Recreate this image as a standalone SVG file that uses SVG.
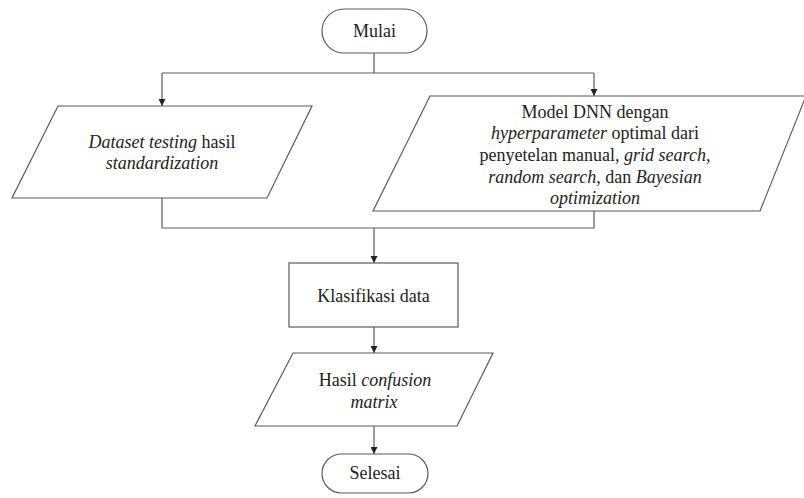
<svg xmlns="http://www.w3.org/2000/svg" width="804" height="498" viewBox="0 0 804 498">
  <style>
    .shape { fill: #ffffff; stroke: #5a5a5a; stroke-width: 1.2; }
    .wire { fill: none; stroke: #5a5a5a; stroke-width: 1.2; }
  </style>
  <defs>
    <marker id="arrow" viewBox="0 0 10 10" refX="10" refY="5" markerWidth="7" markerHeight="7" markerUnits="userSpaceOnUse" orient="auto">
      <path d="M0,0 L10,5 L0,10 Z" fill="#222222"/>
    </marker>
  </defs>
  <rect width="804" height="498" fill="#ffffff"/>

  <!-- connectors -->
  <g id="connectors">
    <path class="wire" d="M374,53 V73"/>
    <path class="wire" d="M162,73 H594"/>
    <path class="wire" d="M162,73 V106" marker-end="url(#arrow)"/>
    <path class="wire" d="M594,73 V96" marker-end="url(#arrow)"/>
    <path class="wire" d="M162,198 V228 H594 V211"/>
    <path class="wire" d="M374,228 V263" marker-end="url(#arrow)"/>
    <path class="wire" d="M374,327 V353" marker-end="url(#arrow)"/>
    <path class="wire" d="M374,426 V454" marker-end="url(#arrow)"/>
  </g>

  <!-- start -->
  <g id="mulai">
    <rect class="shape" x="322" y="9" width="105" height="44" rx="22" ry="22"/>
    <text x="374.5" y="37" font-family="Liberation Serif" font-size="18" fill="#222222" text-anchor="middle">Mulai</text>
  </g>

  <!-- input: test dataset -->
  <g id="dataset">
    <polygon class="shape" points="58,106 312,106 267,198 12,198"/>
    <text x="162" y="148" font-family="Liberation Serif" font-size="18" fill="#222222" text-anchor="middle"><tspan font-style="italic">Dataset testing</tspan> hasil</text>
    <text x="162" y="169" font-family="Liberation Serif" font-size="18" fill="#222222" text-anchor="middle" font-style="italic">standardization</text>
  </g>

  <!-- input: tuned DNN model -->
  <g id="model">
    <polygon class="shape" points="430,96 806,96 760,211 373,211"/>
    <text x="595" y="118" font-family="Liberation Serif" font-size="18" fill="#222222" text-anchor="middle">Model DNN dengan</text>
    <text x="595" y="139" font-family="Liberation Serif" font-size="18" fill="#222222" text-anchor="middle"><tspan font-style="italic">hyperparameter</tspan> optimal dari</text>
    <text x="595" y="161" font-family="Liberation Serif" font-size="18" fill="#222222" text-anchor="middle">penyetelan manual, <tspan font-style="italic">grid search,</tspan></text>
    <text x="595" y="183" font-family="Liberation Serif" font-size="18" fill="#222222" text-anchor="middle"><tspan font-style="italic">random search,</tspan> dan <tspan font-style="italic">Bayesian</tspan></text>
    <text x="595" y="204" font-family="Liberation Serif" font-size="18" fill="#222222" text-anchor="middle" font-style="italic">optimization</text>
  </g>

  <!-- process -->
  <g id="klasifikasi">
    <rect class="shape" x="289" y="263" width="169" height="64"/>
    <text x="373.5" y="302" font-family="Liberation Serif" font-size="18" fill="#222222" text-anchor="middle">Klasifikasi data</text>
  </g>

  <!-- output -->
  <g id="hasil">
    <polygon class="shape" points="293,353 493,353 457,426 255,426"/>
    <text x="375" y="386" font-family="Liberation Serif" font-size="18" fill="#222222" text-anchor="middle">Hasil <tspan font-style="italic">confusion</tspan></text>
    <text x="374" y="408" font-family="Liberation Serif" font-size="18" fill="#222222" text-anchor="middle" font-style="italic">matrix</text>
  </g>

  <!-- end -->
  <g id="selesai">
    <rect class="shape" x="322" y="454" width="106" height="39" rx="19.5" ry="19.5"/>
    <text x="375" y="479" font-family="Liberation Serif" font-size="18" fill="#222222" text-anchor="middle">Selesai</text>
  </g>
</svg>
